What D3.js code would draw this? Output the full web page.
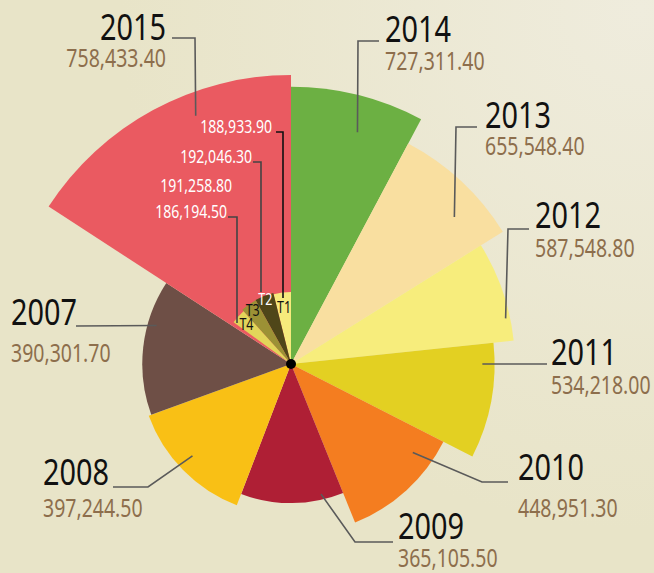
<!DOCTYPE html>
<html>
<head>
<meta charset="utf-8">
<script src="https://cdn.jsdelivr.net/npm/d3@7"></script>
<style>
  html, body { margin: 0; padding: 0; background: #e8e4c8; }
  svg { display: block; }
</style>
</head>
<body>
<div id="chart"></div>
<script>
// wedges clockwise from 12 o'clock
const years = ['2014', '2013', '2012', '2011', '2010', '2009', '2008', '2007', '2015'];
const values = [727311.40, 655548.40, 587548.80, 534218.00, 448951.30, 365105.50, 397244.50, 390301.70, 758433.40];
const spans = [28, 30, 26, 33, 41, 43, 49, 53, 57]; // degrees
const colors = ['#6cb043', '#f9dfa0', '#f7ed7c', '#e3d022', '#f47d20', '#af1f35', '#f9c015', '#6e4f46', '#ea5a61'];

// 2015 quarters, counter-clockwise from 12 o'clock
const quarters = ['T1', 'T2', 'T3', 'T4'];
const quarterValues = [188933.90, 192046.30, 191258.80, 186194.50];
const quarterSpans = [14, 15, 13, 12];
const quarterColors = ['#f6ea7c', '#4f4619', '#9c9135', '#e2d55a'];
const quarterTextColors = ['#111', '#ffffff', '#111', '#111'];

const W = 654, H = 573;
const cx = 291, cy = 364;
const FONT = '"Noto Sans", "DejaVu Sans", sans-serif';
const SX = 0.78; // condensed look
const fmt = d3.format(',.2f');

const svg = d3.select('#chart').append('svg').attr('width', W).attr('height', H);

const defs = svg.append('defs');
const grad = defs.append('radialGradient').attr('id', 'bg')
  .attr('gradientUnits', 'userSpaceOnUse').attr('cx', 640).attr('cy', 10).attr('r', 520);
grad.append('stop').attr('offset', 0).attr('stop-color', '#efecdd');
grad.append('stop').attr('offset', 1).attr('stop-color', '#e8e4c8');
svg.append('rect').attr('width', W).attr('height', H).attr('fill', 'url(#bg)');

const r = d3.scaleLinear().domain([0, d3.max(values)]).range([0, 289]);
const rad = d => d * Math.PI / 180;
const arc = d3.arc().innerRadius(0);

let acc = 0;
const wedges = years.map((y, i) => {
  const w = { year: y, value: values[i], color: colors[i], start: acc, end: acc + spans[i] };
  acc += spans[i];
  return w;
});
let qacc = 0;
const qwedges = quarters.map((q, i) => {
  const w = { name: q, value: quarterValues[i], color: quarterColors[i], tc: quarterTextColors[i], end: qacc, start: qacc - quarterSpans[i] };
  qacc -= quarterSpans[i];
  return w;
});

const polar = (deg, rr) => [cx + rr * Math.sin(rad(deg)), cy - rr * Math.cos(rad(deg))];

const g = svg.append('g').attr('transform', `translate(${cx},${cy})`);

g.selectAll('path.wedge').data(wedges).join('path')
  .attr('class', 'wedge')
  .attr('fill', d => d.color)
  .attr('d', d => arc({ startAngle: rad(d.start), endAngle: rad(d.end), outerRadius: r(d.value) }));

g.selectAll('path.q').data(qwedges).join('path')
  .attr('class', 'q')
  .attr('fill', d => d.color)
  .attr('d', d => arc({ startAngle: rad(d.start), endAngle: rad(d.end), outerRadius: r(d.value) }));

g.append('circle').attr('r', 5).attr('fill', '#000');

function label(x, y, anchor, size, color, txt) {
  svg.append('g').attr('transform', `translate(${x},${y}) scale(${SX},1)`)
    .append('text').attr('text-anchor', anchor)
    .attr('font-family', FONT).attr('font-size', size).attr('fill', color)
    .text(txt);
}

// label layout: connector start (angle, fraction of radius), elbow points, text position
const layout = {
  '2015': { a: 339, f: 0.92, pts: [[195, 38], [172, 38]], x: 166, y: 40, vy: 67, anchor: 'end' },
  '2014': { a: 16, f: 0.87, pts: [[358, 41], [379, 41]], x: 385, y: 42, vy: 70, anchor: 'start' },
  '2013': { a: 48, f: 0.88, pts: [[456, 127], [477, 127]], x: 485, y: 128, vy: 155, anchor: 'start' },
  '2012': { a: 78, f: 0.98, pts: [[508, 229], [529, 229]], x: 535, y: 228, vy: 257, anchor: 'start' },
  '2011': { a: 90, f: 0.94, pts: [[547, 364]], x: 551, y: 365, vy: 394, anchor: 'start' },
  '2010': { a: 126, f: 0.88, pts: [[482, 482], [508, 482]], x: 518, y: 480, vy: 517, anchor: 'start' },
  '2009': { a: 167, f: 0.96, pts: [[355, 542], [393, 542]], x: 398, y: 539, vy: 567, anchor: 'start' },
  '2008': { a: 227, f: 0.89, pts: [[148, 487], [113, 487]], x: 43, y: 485, vy: 517, anchor: 'start' },
  '2007': { a: 286, f: 0.94, pts: [[76, 326]], x: 11, y: 325, vy: 362, anchor: 'start' }
};

const line = d3.line();
wedges.forEach(w => {
  const L = layout[w.year];
  const p0 = polar(L.a, r(w.value) * L.f);
  svg.append('path').attr('d', line([p0, ...L.pts]))
    .attr('fill', 'none').attr('stroke', '#5a5a5a').attr('stroke-width', 1.6);
  label(L.x, L.y, L.anchor, 37, '#111', w.year);
  label(L.x, L.vy, L.anchor, 25, '#8d6e4c', fmt(w.value));
});

// quarter labels inside the 2015 wedge
const qLayout = {
  T1: { x: 272, y: 133, line: [[276, 132], [283, 132], [283, 298]], lr: 57 },
  T2: { x: 252, y: 163, line: [[253, 162], [261, 162], [261, 292]], lr: 70 },
  T3: { x: 232, y: 192, line: null, lr: 66 },
  T4: { x: 227, y: 218, line: [[228, 217], [237, 217], [237, 323]], lr: 60 }
};

qwedges.forEach(q => {
  const L = qLayout[q.name];
  if (L.line) {
    svg.append('path').attr('d', line(L.line))
      .attr('fill', 'none').attr('stroke', q.name === 'T1' ? '#111' : '#444').attr('stroke-width', 1.6);
  }
  label(L.x, L.y, 'end', 18, '#fff', fmt(q.value));
  const p = polar((q.start + q.end) / 2, L.lr);
  label(p[0], p[1] + 6, 'middle', 16, q.tc, q.name);
});
</script>
</body>
</html>
